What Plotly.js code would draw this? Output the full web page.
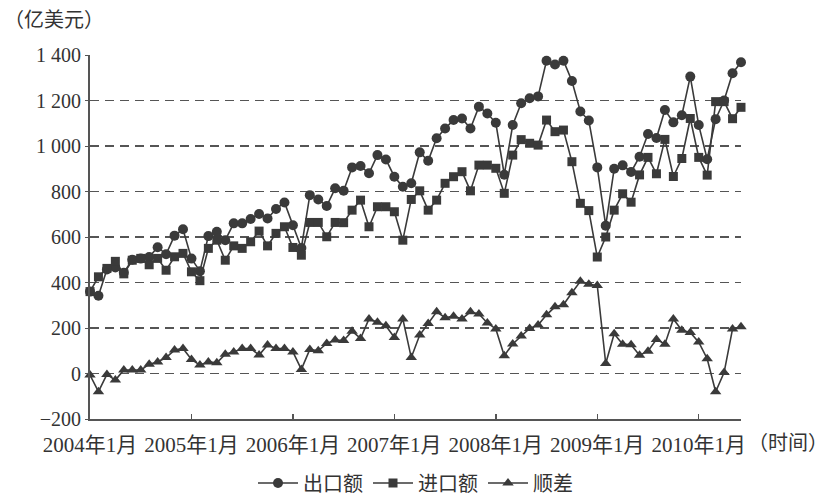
<!DOCTYPE html>
<html>
<head>
<meta charset="utf-8">
<script src="https://cdn.plot.ly/plotly-3.0.1.min.js"></script>
<style>
  html, body { margin: 0; padding: 0; background: #fff; }
  #chart { width: 833px; height: 494px; }
</style>
</head>
<body>
<div id="chart"></div>
<script>
// Monthly categories: 2004年1月 ... 2010年6月
const startYear = 2004;
const monthCount = 78;
const months = [];
for (let k = 0; k < monthCount; k++) {
  months.push((startYear + Math.floor(k / 12)) + "年" + ((k % 12) + 1) + "月");
}
const yearTicks = ["2004年1月", "2005年1月", "2006年1月", "2007年1月", "2008年1月", "2009年1月", "2010年1月"];

// 出口额 (亿美元)
const exports = [
  360, 342, 457, 466, 443, 500, 505, 512, 555, 524, 606, 634,
  505, 450, 604, 623, 586, 660, 660, 679, 701, 681, 723, 752,
  652, 552, 784, 765, 736, 814, 803, 906, 912, 880, 960, 941,
  865, 821, 836, 972, 935, 1034, 1077, 1114, 1121, 1077, 1173, 1143,
  1102, 874, 1092, 1188, 1210, 1218, 1375, 1358, 1375, 1286, 1152, 1112,
  906, 650, 900, 915, 886, 953, 1053, 1035, 1158, 1104, 1135, 1305,
  1092, 942, 1118, 1200, 1320, 1368
];
// 进口额 (亿美元)
const imports = [
  360, 425, 462, 493, 438, 498, 506, 478, 506, 454, 513, 528,
  447, 408, 550, 586, 498, 561, 550, 579, 626, 561, 616, 645,
  554, 520, 664, 664, 601, 664, 663, 718, 762, 645, 733, 733,
  711, 586, 765, 803, 718, 762, 836, 865, 887, 803, 916, 916,
  902, 792, 960, 1028, 1012, 1004, 1114, 1063, 1070, 931, 748, 716,
  512, 600, 718, 790, 753, 873, 950, 878, 1029, 866, 945, 1121,
  950, 872, 1195, 1195, 1120, 1170
];
// 顺差 (亿美元)
const balance = [
  -7, -80, -4, -29, 15, 15, 15, 41, 51, 70, 103, 110,
  62, 37, 51, 47, 85, 95, 110, 110, 81, 125, 110, 110,
  95, 18, 106, 100, 132, 147, 145, 186, 154, 240, 225, 210,
  158, 240, 70, 169, 220, 271, 245, 252, 240, 271, 262, 222,
  196, 78, 130, 165, 198, 213, 258, 293, 302, 355, 405, 392,
  387, 44, 175, 129, 126, 80, 98, 150, 129, 240, 190, 180,
  138, 65, -80, 4, 196, 205
];

const yTickVals = [-200, 0, 200, 400, 600, 800, 1000, 1200, 1400];
const yTickText = ["\u2212200", "0", "200", "400", "600", "800", "1 000", "1 200", "1 400"];

const ink = "#3a3a3a";
const serif = "'Liberation Serif', 'Times New Roman', 'Noto Sans CJK SC', serif";

function series(name, y, symbol, size) {
  return {
    type: "scatter", mode: "lines+markers", name: name,
    x: months, y: y,
    line: { color: ink, width: 1.6 },
    marker: { symbol: symbol, size: size, color: ink },
    cliponaxis: false
  };
}

const data = [
  series("出口额", exports, "circle", 10),
  series("进口额", imports, "square", 9),
  series("顺差", balance, "triangle-up", 10)
];

const layout = {
  width: 833, height: 494,
  margin: { l: 90, r: 92, t: 55, b: 75, autoexpand: false },
  paper_bgcolor: "#fff", plot_bgcolor: "#fff",
  font: { family: serif, size: 20, color: "#333" },
  showlegend: true,
  legend: {
    orientation: "h", x: 0.5, xanchor: "center", y: -0.176, yanchor: "middle",
    font: { family: serif, size: 20, color: "#333" },
    itemwidth: 40, tracegroupgap: 0
  },
  xaxis: {
    type: "category",
    range: [0, monthCount - 1],
    tickmode: "array", tickvals: yearTicks, ticktext: yearTicks,
    ticks: "inside", ticklen: 5, tickcolor: "#555", tickwidth: 1.5,
    showline: true, linecolor: "#555", linewidth: 2,
    showgrid: false, zeroline: false,
    ticklabelstandoff: 6,
    tickfont: { family: serif, size: 21, color: "#333" }
  },
  yaxis: {
    range: [-200, 1400],
    tickmode: "array", tickvals: yTickVals, ticktext: yTickText,
    ticks: "outside", ticklen: 3, tickcolor: "#555",
    showline: true, linecolor: "#555", linewidth: 2,
    showgrid: true, gridcolor: "#555", gridwidth: 1.5, griddash: "9px,6px",
    zeroline: false,
    tickfont: { family: serif, size: 20, color: "#333" }
  },
  annotations: [
    { text: "（亿美元）", xref: "paper", yref: "paper", x: -0.135, y: 1.095,
      xanchor: "left", yanchor: "middle", showarrow: false,
      font: { family: serif, size: 20, color: "#333" } },
    { text: "（时间）", xref: "paper", yref: "paper", x: 1.137, y: -0.066,
      xanchor: "right", yanchor: "middle", showarrow: false,
      font: { family: serif, size: 20, color: "#333" } }
  ]
};

Plotly.newPlot("chart", data, layout, { displayModeBar: false, staticPlot: true });
</script>
</body>
</html>
